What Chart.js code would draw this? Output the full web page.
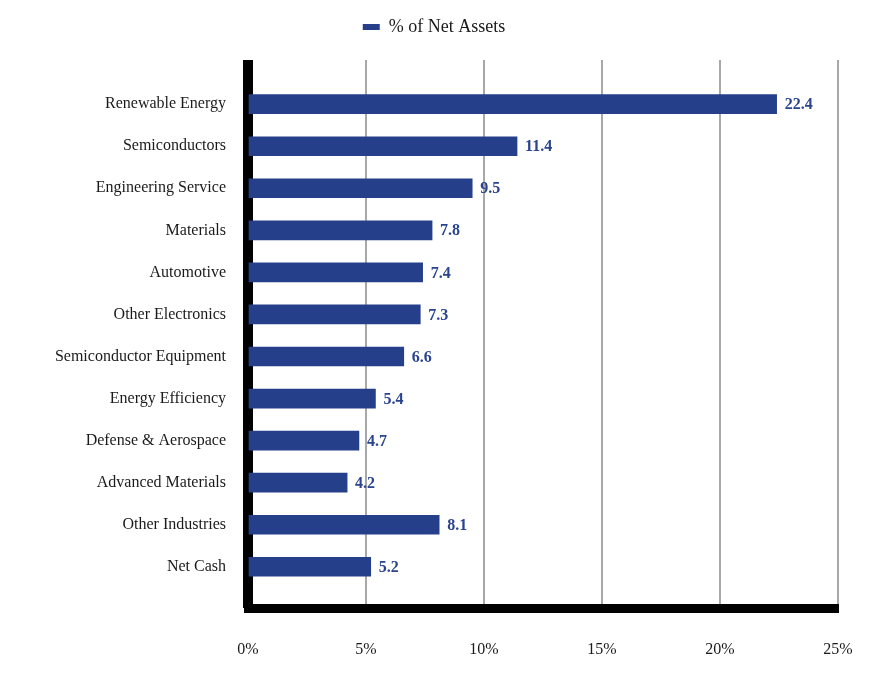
<!DOCTYPE html>
<html>
<head>
<meta charset="utf-8">
<script src="https://cdn.jsdelivr.net/npm/chart.js@4/dist/chart.umd.min.js"></script>
<style>
html,body{margin:0;padding:0;background:#fff;}
#wrap{width:876px;height:684px;position:relative;}
</style>
</head>
<body>
<div id="wrap"><canvas id="c"></canvas></div>
<script>
const categories = ["Renewable Energy","Semiconductors","Engineering Service","Materials","Automotive","Other Electronics","Semiconductor Equipment","Energy Efficiency","Defense & Aerospace","Advanced Materials","Other Industries","Net Cash"];
const values = [22.4, 11.4, 9.5, 7.8, 7.4, 7.3, 6.6, 5.4, 4.7, 4.2, 8.1, 5.2];
const seriesName = "% of Net Assets";
const xTicks = [0, 5, 10, 15, 20, 25];

const FONT = "'Liberation Serif', 'Times New Roman', serif";
const BAR = "#263f8a";
const TEXT = "#1a1a1a";

const valueLabels = {
  id: 'valueLabels',
  afterDatasetsDraw(chart) {
    const ctx = chart.ctx;
    const meta = chart.getDatasetMeta(0);
    ctx.save();
    ctx.font = "bold 16px " + FONT;
    ctx.fillStyle = "#2a448f";
    ctx.textAlign = 'left';
    ctx.textBaseline = 'middle';
    meta.data.forEach((el, i) => {
      ctx.fillText(values[i].toFixed(1), el.x + 8, el.y + 1);
    });
    ctx.restore();
  }
};

const legendGap = {
  id: 'legendGap',
  afterInit(chart) {
    const lg = chart.legend;
    if (!lg) return;
    const orig = lg.fit.bind(lg);
    lg.fit = function() { orig(); this.height += 14; };
  },
  afterLayout(chart) {
    const s = chart.scales.y;
    if (s && !s._clipPatched) {
      const o = s.drawBorder.bind(s);
      s.drawBorder = function() {
        const ctx = this.ctx, ca = this.chart.chartArea;
        ctx.save();
        ctx.beginPath();
        ctx.rect(0, ca.top, this.chart.width, this.chart.height - ca.top);
        ctx.clip();
        o();
        ctx.restore();
      };
      s._clipPatched = true;
    }
  }
};

new Chart(document.getElementById('c'), {
  type: 'bar',
  data: {
    datasets: [{
      label: seriesName,
      data: values.map((v, i) => ({x: v, y: i})),
      backgroundColor: BAR,
      borderWidth: 0,
      barThickness: 19
    }]
  },
  options: {
    indexAxis: 'y',
    responsive: true,
    maintainAspectRatio: false,
    animation: false,
    layout: { padding: { top: 4, right: 38, left: 30, bottom: 0 } },
    plugins: {
      legend: {
        position: 'top',
        labels: {
          font: { family: FONT, size: 18 },
          color: TEXT,
          boxWidth: 17,
          boxHeight: 6,
          padding: 14
        }
      },
      tooltip: { enabled: false }
    },
    scales: {
      x: {
        type: 'linear',
        min: 0,
        max: 25,
        offset: false,
        afterBuildTicks(s) { s.ticks = xTicks.map(v => ({value: v})); },
        afterFit(s) { s.height = 76; },
        ticks: {
          callback: v => v + '%',
          font: { family: FONT, size: 16 },
          color: TEXT,
          padding: 8
        },
        grid: { color: '#a8a8a8', lineWidth: 2, drawTicks: true, tickLength: 24, tickColor: 'rgba(0,0,0,0)' },
        border: { display: true, color: '#000', width: 9 }
      },
      y: {
        type: 'linear',
        reverse: true,
        offset: false,
        min: -1.05,
        max: 11.98,
        afterBuildTicks(s) { s.ticks = categories.map((c, i) => ({value: i})); },
        afterFit(s) { s.width = 218; },
        ticks: {
          callback: (v) => categories[v],
          font: { family: FONT, size: 16 },
          color: TEXT,
          padding: 22
        },
        grid: { display: false, drawTicks: false, lineWidth: 0 },
        border: { display: true, color: '#000', width: 10 }
      }
    }
  },
  plugins: [valueLabels, legendGap]
});
</script>
</body>
</html>
